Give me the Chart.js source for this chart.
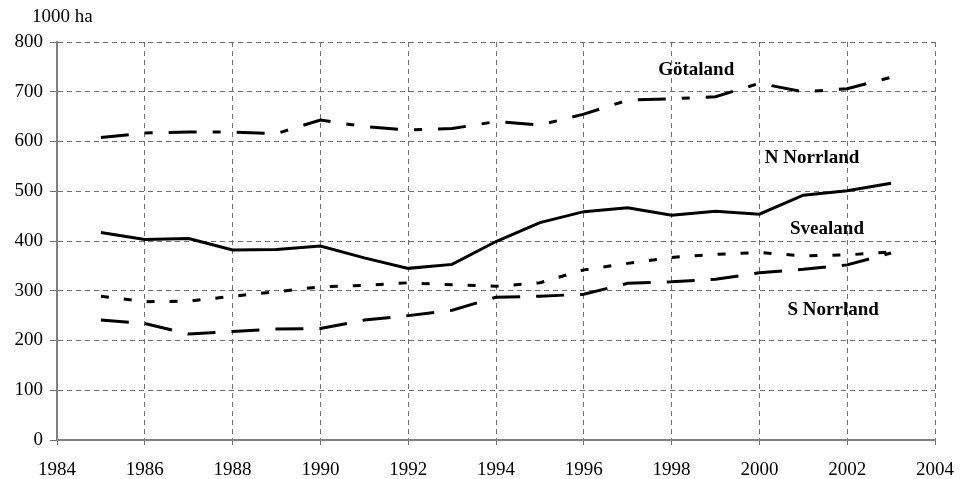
<!DOCTYPE html>
<html>
<head>
<meta charset="utf-8">
<script src="https://cdn.jsdelivr.net/npm/chart.js@4"></script>
<style>
html,body{margin:0;padding:0;background:#fff;}
#c{display:block;}
</style>
</head>
<body>
<canvas id="c" width="974" height="479"></canvas>
<script>
const years = [1985,1986,1987,1988,1989,1990,1991,1992,1993,1994,1995,1996,1997,1998,1999,2000,2001,2002,2003];
const gotaland   = [608,617,619,619,616,643,630,623,626,640,633,655,683,686,690,717,700,706,729];
const nNorrland  = [417,403,405,382,383,390,366,345,353,399,437,459,467,452,460,454,492,501,516];
const svealand   = [289,278,279,289,298,308,311,316,312,309,316,342,355,367,373,377,370,372,378];
const sNorrland  = [241,234,213,218,223,224,241,250,261,287,289,293,315,318,323,336,343,352,376];
const seriesNames = ['Götaland','N Norrland','Svealand','S Norrland'];
const labelX = [1998.56, 2001.2, 2001.54, 2001.68];
const labelY = [744, 567, 424, 261];
const xTicks = [1984,1986,1988,1990,1992,1994,1996,1998,2000,2002,2004];
const yTicks = [0,100,200,300,400,500,600,700,800];
const unitLabel = '1000 ha';

const FONT = '"Liberation Serif", "Times New Roman", serif';

function pts(vals){ return years.map((y,i)=>({x:y,y:vals[i]})); }

const labelPlugin = {
  id:'labels',
  afterDraw(chart){
    const ctx = chart.ctx;
    const xs = chart.scales.x, ys = chart.scales.y;
    ctx.save();
    ctx.fillStyle = '#000';
    ctx.font = '19px ' + FONT;
    ctx.textAlign = 'left';
    ctx.textBaseline = 'middle';
    ctx.fillText(unitLabel, 32, 17);
    ctx.font = 'bold 19px ' + FONT;
    ctx.textAlign = 'center';
    seriesNames.forEach((n,i)=>{
      ctx.fillText(n, xs.getPixelForValue(labelX[i]), ys.getPixelForValue(labelY[i]));
    });
    ctx.restore();
  }
};

const common = {borderColor:'#000', borderWidth:3, pointRadius:0, fill:false, tension:0, borderCapStyle:'butt', borderJoinStyle:'miter'};

new Chart(document.getElementById('c'), {
  type:'line',
  data:{
    datasets:[
      Object.assign({label:seriesNames[0], data:pts(gotaland), borderDash:[28,16,8,16]}, common),
      Object.assign({label:seriesNames[1], data:pts(nNorrland), borderDash:[]}, common),
      Object.assign({label:seriesNames[2], data:pts(svealand), borderDash:[8,15]}, common),
      Object.assign({label:seriesNames[3], data:pts(sNorrland), borderDash:[28,16]}, common)
    ]
  },
  options:{
    responsive:false,
    animation:false,
    events:[],
    layout:{padding:{top:42,right:39,left:0,bottom:0}},
    plugins:{legend:{display:false}, tooltip:{enabled:false}},
    scales:{
      x:{
        type:'linear', min:1984, max:2004,
        afterBuildTicks(s){ s.ticks = xTicks.map(v=>({value:v})); },
        afterFit(s){ s.height = 39; },
        ticks:{callback:v=>String(v), color:'#000', font:{family:FONT, size:19}, padding:14, maxRotation:0, autoSkip:false},
        grid:{color:'#707070', lineWidth:1, tickLength:5, tickColor:'#707070', drawTicks:true},
        border:{display:true, color:'#808080', width:2, dash:[5,4]}
      },
      y:{
        min:0, max:800,
        afterBuildTicks(s){ s.ticks = yTicks.map(v=>({value:v})); },
        afterFit(s){ s.width = 57; },
        ticks:{callback:v=>String(v), color:'#000', font:{family:FONT, size:19}, padding:7, autoSkip:false},
        grid:{color:'#707070', lineWidth:1, tickLength:7, tickColor:'#707070', drawTicks:true},
        border:{display:true, color:'#808080', width:2, dash:[5,4]}
      }
    }
  },
  plugins:[labelPlugin]
});
</script>
</body>
</html>
